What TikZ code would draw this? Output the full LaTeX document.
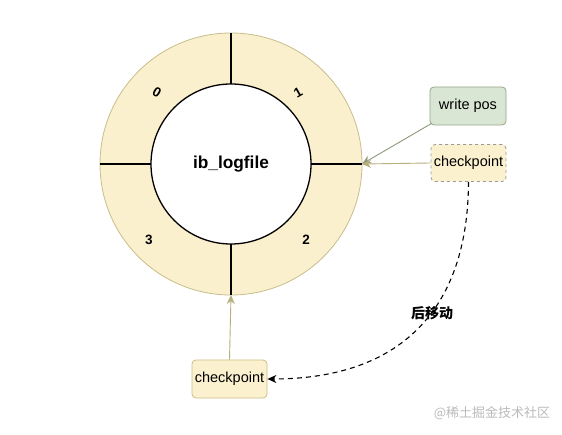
\documentclass[tikz,border=0pt]{standalone}
\usepackage{fontspec}
\setmainfont{Liberation Sans}
\setsansfont{Liberation Sans}
\newfontfamily\cjk{Noto Sans CJK SC}
\usetikzlibrary{arrows.meta}
\definecolor{ringfill}{HTML}{FAF0CE}
\definecolor{ringline}{HTML}{C9BD8B}
\definecolor{greenfill}{HTML}{D9E6D3}
\definecolor{greenline}{HTML}{97A58A}
\definecolor{greenarrow}{HTML}{8E9C7D}
\definecolor{olivearrow}{HTML}{B7AF7C}
\definecolor{boxfill}{HTML}{FBF1CF}
\definecolor{boxline}{HTML}{CDBE85}
\definecolor{dashline}{HTML}{9A9A9A}
\definecolor{wm}{HTML}{BBBBBB}
\tikzset{
  lbl/.style={font=\fontsize{14.5}{16}\selectfont, inner sep=0pt},
  digit/.style={font=\bfseries\fontsize{13.5}{15}\selectfont, inner sep=0pt},
  boxstyle/.style={rounded corners=4pt, line width=0.8pt},
  tip/.style={-{Stealth[length=9pt,width=8pt]}},
}
\begin{document}
\begin{tikzpicture}[x=1pt,y=-1pt]
\useasboundingbox[fill=white] (0,0) rectangle (562,435);
% ring
\fill[ringfill,draw=ringline,line width=0.8pt] (231,164) circle (131);
\fill[white,draw=black,line width=1.3pt] (231,164) circle (80);
\node[font=\bfseries\fontsize{17.3}{19}\selectfont, inner sep=0pt] (core) at (231,164) {ib\_logfile};
\coordinate (topo) at (231,33);
\coordinate (topi) at (231,84);
\coordinate (boto) at (231,295);
\coordinate (boti) at (231,244);
\coordinate (lefo) at (100,164);
\coordinate (lefi) at (151,164);
\coordinate (rigo) at (362,164);
\coordinate (rigi) at (311,164);
\draw[line width=1.3pt] (topo) -- (topi);
\draw[line width=1.3pt] (boto) -- (boti);
\draw[line width=1.3pt] (lefo) -- (lefi);
\draw[line width=1.3pt] (rigo) -- (rigi);
\node[digit, rotate=-30] (d0) at (157,92) {0};
\node[digit, rotate=30] (d1) at (298,93) {1};
\node[digit] (d3) at (149,240) {3};
\node[digit] (d2) at (306,240) {2};
% boxes
\node[boxstyle, draw=greenline, fill=greenfill, lbl, minimum width=76pt, minimum height=38pt] (wp) at (468,106) {write pos};
\node[boxstyle, draw=dashline, fill=boxfill, dashed, lbl, minimum width=75pt, minimum height=37pt] (cp1) at (468.5,163) {checkpoint};
\node[boxstyle, draw=boxline, fill=boxfill, lbl, minimum width=75pt, minimum height=38pt] (cp2) at (229.5,379) {checkpoint};
% arrows
\draw[tip, greenarrow, line width=0.9pt] (wp.south west) ++(2,-2) -- (rigo);
\draw[tip, olivearrow, line width=0.9pt] (cp1.west) -- (rigo);
\draw[tip, olivearrow, line width=0.9pt] (cp2.north) -- (boto);
\draw[-{Stealth[length=9pt,width=8pt]}, black, dashed, line width=1.1pt, dash pattern=on 5pt off 4pt] (cp1.south) .. controls (468,310) and (400,379) .. (cp2.east);
\node[font=\cjk\bfseries\fontsize{14}{16}\selectfont, inner sep=0pt] (mv) at (432,313) {后移动};
\node[font=\cjk\fontsize{13}{15}\selectfont, text=wm, inner sep=0pt] (wmk) at (492,413) {@稀土掘金技术社区};
\end{tikzpicture}
\end{document}
